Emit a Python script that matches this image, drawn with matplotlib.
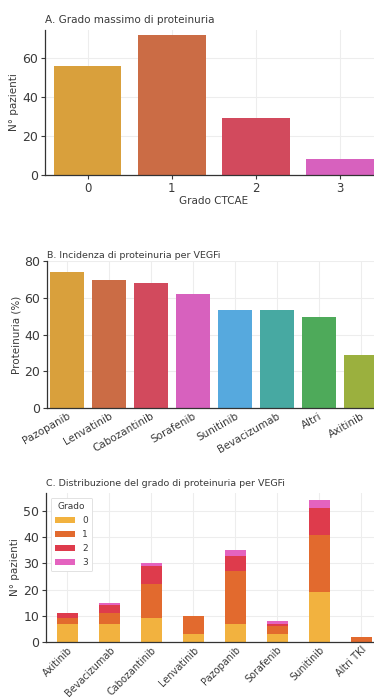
import matplotlib
matplotlib.use("Agg")
import matplotlib.pyplot as plt
import numpy as np

# Panel A: maximum proteinuria grade
grades = ["0", "1", "2", "3"]
grade_counts = [56, 72, 29, 8]
grade_colors = ["#D9A03C", "#CB6C45", "#D24A5D", "#D761BE"]

# Panel B: proteinuria incidence per VEGFi
drugs_b = ["Pazopanib", "Lenvatinib", "Cabozantinib", "Sorafenib",
           "Sunitinib", "Bevacizumab", "Altri", "Axitinib"]
incidence = [73.8, 69.8, 67.8, 62.3, 53.6, 53.2, 49.6, 28.6]
drug_colors = ["#D9A03C", "#CB6C45", "#D24A5D", "#D761BE",
               "#56A9DE", "#47A9A2", "#4EAA5A", "#9BB03E"]

# Panel C: grade distribution per VEGFi
drugs_c = ["Axitinib", "Bevacizumab", "Cabozantinib", "Lenvatinib",
           "Pazopanib", "Sorafenib", "Sunitinib", "Altri TKI"]
g0 = [7, 7, 9, 3, 7, 3, 19, 0]
g1 = [2, 4, 13, 7, 20, 3, 22, 2]
g2 = [2, 3, 7, 0, 6, 1, 10, 0]
g3 = [0, 1, 1, 0, 2, 1, 3, 0]
stack_colors = ["#F2B23F", "#E26A2E", "#DE3B4C", "#E463BF"]

TXT = "#3A3A3A"
W, H = 374, 699
fig = plt.figure(figsize=(W / 100, H / 100), dpi=100)


def axes_px(left, top, right, bottom):
    return fig.add_axes([left / W, 1 - bottom / H, (right - left) / W, (bottom - top) / H])


def style(ax, xdir="in", xsize=7.5):
    ax.set_axisbelow(True)
    ax.grid(True, color="#EDEDED", linewidth=0.8)
    for s in ("top", "right"):
        ax.spines[s].set_visible(False)
    for s in ("left", "bottom"):
        ax.spines[s].set_color("#333333")
        ax.spines[s].set_linewidth(0.9)
    ax.tick_params(axis="y", labelsize=9, colors=TXT, length=3, width=0.8, pad=2)
    ax.tick_params(axis="x", labelsize=xsize, colors=TXT, length=3, width=0.8,
                   direction=xdir, pad=2)


# A
axA = axes_px(45, 30, 382, 175)
xa = np.arange(len(grades))
axA.bar(xa, grade_counts, width=0.8, color=grade_colors)
axA.set_xlim(-0.51, 3.5)
axA.set_ylim(0, 74.4)
axA.set_yticks([0, 20, 40, 60])
axA.set_xticks(xa)
axA.set_xticklabels(grades)
style(axA, xdir="out", xsize=8.5)
axA.set_xlabel("Grado CTCAE", fontsize=7.5, color=TXT, labelpad=1)
axA.set_ylabel("N° pazienti", fontsize=7.5, color=TXT, labelpad=2)
axA.set_title("A. Grado massimo di proteinuria", fontsize=7.5, color=TXT, loc="left", pad=5)

# B
axB = axes_px(47, 261, 382, 408)
xb = np.arange(len(drugs_b))
axB.bar(xb, incidence, width=0.8, color=drug_colors)
axB.set_xlim(-0.48, 7.5)
axB.set_ylim(0, 80)
axB.set_yticks([0, 20, 40, 60, 80])
axB.set_xticks(xb)
axB.set_xticklabels(drugs_b, rotation=30, ha="right", rotation_mode="anchor")
style(axB, xsize=7.5)
axB.set_ylabel("Proteinuria (%)", fontsize=7.5, color=TXT, labelpad=2)
axB.set_title("B. Incidenza di proteinuria per VEGFi", fontsize=6.8, color=TXT, loc="left", pad=2)

# C
axC = axes_px(46, 493, 382, 642)
xc = np.arange(len(drugs_c))
bottom = np.zeros(len(drugs_c))
for lab, vals, col in zip(grades, [g0, g1, g2, g3], stack_colors):
    axC.bar(xc, vals, width=0.5, bottom=bottom, color=col, label=lab)
    bottom += np.array(vals)
axC.set_xlim(-0.51, 7.5)
axC.set_ylim(0, bottom.max() * 1.053)
axC.set_yticks([0, 10, 20, 30, 40, 50])
axC.set_xticks(xc)
axC.set_xticklabels(drugs_c, rotation=45, ha="right", rotation_mode="anchor")
style(axC, xsize=7)
axC.set_ylabel("N° pazienti", fontsize=7.5, color=TXT, labelpad=2)
axC.set_title("C. Distribuzione del grado di proteinuria per VEGFi", fontsize=6.8, color=TXT, loc="left", pad=5)
leg = axC.legend(title="Grado", loc="upper left", fontsize=6.5, title_fontsize=6.5,
                 frameon=True, handlelength=2.2, handleheight=0.7, labelspacing=0.55,
                 borderpad=0.5, framealpha=1)
leg.get_frame().set_edgecolor("#DDDDDD")
leg.get_frame().set_linewidth(0.6)
for t in leg.get_texts():
    t.set_color(TXT)
leg.get_title().set_color(TXT)

fig.savefig("out.png", dpi=100)
